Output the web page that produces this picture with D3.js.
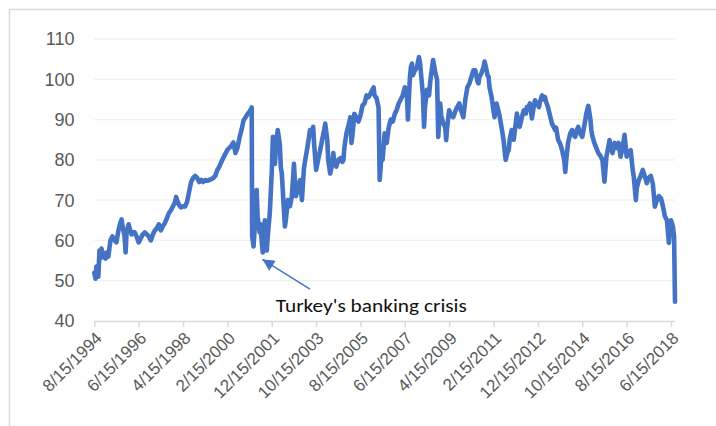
<!DOCTYPE html>
<html>
<head>
<meta charset="utf-8">
<script src="https://cdn.jsdelivr.net/npm/d3@7"></script>
<style>
  body { margin: 0; background: #fff; }
  svg { display: block; }
</style>
</head>
<body>
<div id="chart"></div>
<script>

// Lira index line chart, 1994 - 2018

const width = 716;
const height = 426;
const margin = {left: 94.3, right: 41, top: 39, bottom: 105};

// dates (one line per year) and the matching values
const dates = [
  "1994-08-15","1994-09-01","1994-09-15","1994-10-15","1994-11-01","1994-11-15","1994-12-01",
  "1995-01-01","1995-02-01","1995-02-15","1995-03-15","1995-04-15","1995-05-15","1995-06-15","1995-07-15","1995-08-15","1995-09-15","1995-10-01","1995-10-15","1995-11-15","1995-12-01","1995-12-15",
  "1996-01-15","1996-02-15","1996-03-01","1996-03-15","1996-04-15","1996-05-15","1996-06-15","1996-07-15","1996-08-15","1996-09-15","1996-10-15","1996-11-15","1996-12-15",
  "1997-01-15","1997-02-15","1997-03-15","1997-04-15","1997-05-15","1997-06-15","1997-07-15","1997-08-15","1997-09-15","1997-10-15","1997-11-15","1997-12-15",
  "1998-01-01","1998-01-15","1998-02-15","1998-03-15","1998-04-15","1998-05-15","1998-06-15","1998-07-15","1998-08-15","1998-09-15","1998-10-15","1998-11-15","1998-12-15",
  "1999-01-15","1999-02-15","1999-03-15","1999-04-15","1999-05-15","1999-06-15","1999-07-15","1999-08-15","1999-09-15","1999-10-15","1999-11-15","1999-12-15",
  "2000-01-15","2000-02-15","2000-03-15","2000-04-15","2000-05-15","2000-06-15","2000-07-15","2000-08-15","2000-09-15","2000-10-15","2000-11-15","2000-12-15",
  "2001-01-15","2001-02-15","2001-02-22","2001-03-15","2001-04-01","2001-04-15","2001-05-01","2001-05-15","2001-06-15","2001-07-01","2001-07-15","2001-08-01","2001-08-15","2001-09-01","2001-09-15","2001-10-01","2001-10-15","2001-11-15","2001-12-15",
  "2002-01-01","2002-01-15","2002-02-01","2002-02-15","2002-03-15","2002-04-15","2002-05-01","2002-05-15","2002-06-15","2002-07-01","2002-07-15","2002-08-15","2002-09-15","2002-10-15","2002-11-15","2002-12-01","2002-12-15",
  "2003-01-15","2003-02-15","2003-03-15","2003-04-15","2003-05-15","2003-06-15","2003-07-15","2003-08-15","2003-09-01","2003-09-15","2003-10-15","2003-11-15","2003-12-15",
  "2004-01-15","2004-02-15","2004-03-01","2004-04-01","2004-04-15","2004-05-15","2004-06-15","2004-07-01","2004-07-15","2004-08-15","2004-09-15","2004-10-15","2004-11-15","2004-12-01","2004-12-15",
  "2005-01-15","2005-02-15","2005-03-15","2005-04-01","2005-04-15","2005-05-15","2005-06-15","2005-07-15","2005-08-15","2005-09-15","2005-10-15","2005-11-15","2005-12-15",
  "2006-01-15","2006-02-15","2006-03-01","2006-03-15","2006-04-15","2006-05-15","2006-06-01","2006-06-15","2006-07-01","2006-07-15","2006-08-15","2006-09-15","2006-10-15","2006-11-15","2006-12-15",
  "2007-01-15","2007-02-15","2007-03-15","2007-04-15","2007-05-15","2007-06-15","2007-07-15","2007-08-01","2007-08-15","2007-09-01","2007-09-15","2007-10-01","2007-10-15","2007-11-15","2007-12-15",
  "2008-01-15","2008-02-01","2008-02-15","2008-03-15","2008-04-01","2008-04-15","2008-05-15","2008-06-15","2008-07-01","2008-07-15","2008-08-15","2008-09-15","2008-10-15","2008-11-01","2008-11-15","2008-12-01","2008-12-15",
  "2009-01-15","2009-02-15","2009-03-01","2009-03-15","2009-04-15","2009-05-15","2009-06-15","2009-07-15","2009-08-15","2009-09-15","2009-10-15","2009-11-15","2009-12-15",
  "2010-01-15","2010-02-15","2010-03-15","2010-04-15","2010-05-15","2010-06-15","2010-07-01","2010-07-15","2010-08-15","2010-09-15","2010-10-01","2010-10-15","2010-11-15","2010-12-01","2010-12-15",
  "2011-01-15","2011-02-15","2011-03-01","2011-04-01","2011-04-15","2011-05-15","2011-06-15","2011-07-15","2011-08-15","2011-09-15","2011-10-01","2011-10-15","2011-11-15","2011-12-15",
  "2012-01-15","2012-02-01","2012-02-15","2012-03-15","2012-04-15","2012-05-15","2012-06-15","2012-07-01","2012-07-15","2012-08-15","2012-09-15","2012-10-15","2012-11-01","2012-11-15","2012-12-15",
  "2013-01-01","2013-01-15","2013-02-15","2013-03-15","2013-04-01","2013-04-15","2013-05-15","2013-06-15","2013-07-15","2013-08-15","2013-09-01","2013-09-15","2013-10-15","2013-11-15","2013-12-15",
  "2014-01-15","2014-02-01","2014-02-15","2014-03-15","2014-04-15","2014-05-15","2014-06-15","2014-07-01","2014-07-15","2014-08-15","2014-09-15","2014-10-15","2014-11-15","2014-12-01","2014-12-15",
  "2015-01-15","2015-02-15","2015-03-01","2015-03-15","2015-04-15","2015-05-15","2015-06-15","2015-07-15","2015-08-15","2015-09-15","2015-10-15","2015-11-15","2015-12-01","2015-12-15",
  "2016-01-15","2016-02-15","2016-03-15","2016-04-15","2016-05-15","2016-06-15","2016-07-15","2016-08-15","2016-09-15","2016-10-15","2016-11-15","2016-12-01",
  "2017-01-01","2017-01-15","2017-02-15","2017-03-15","2017-04-15","2017-05-15","2017-06-15","2017-07-15","2017-08-15","2017-09-15","2017-10-15","2017-11-15","2017-12-15",
  "2018-01-15","2018-02-15","2018-03-15","2018-04-15","2018-05-15","2018-06-01","2018-06-15","2018-07-15","2018-08-01","2018-08-15"
];

const values = [
  52, 50.5, 53.5, 51, 57.5, 55.5, 58,
  56, 55.5, 57, 56, 60, 61, 60, 59.5, 62.5, 64.5, 65.2, 63.5, 61, 57, 62,
  64, 62, 61.5, 62, 62, 61, 59.5, 60.5, 61.5, 62, 61.5, 61, 60,
  61.5, 62.5, 63, 64, 62.5, 63.5, 64.3, 65.5, 66.8, 67.5, 68.5, 69.5,
  70.8, 70, 68.8, 68.2, 68.5, 68.4, 69.5, 72, 74.5, 75.5, 76, 75.5, 74.5,
  75, 74.5, 75, 74.8, 75, 75.2, 75.5, 76, 77.5, 78.3, 79.5, 80.5,
  81.5, 82.5, 83, 83.5, 84.3, 81.7, 83, 85.5, 87.5, 89.8, 90.6, 91.4,
  92, 93, 61, 58.5, 63, 68, 72.5, 66, 62, 64, 60, 57, 58, 65, 60, 57.5, 61, 66.8, 77,
  85.7, 82, 79, 83, 87.4, 84, 78, 76.8, 68, 63.5, 65, 70, 68.5, 71, 79, 74, 71,
  73, 75, 70, 78, 81, 84, 87.4, 87, 88.2, 84, 77.5, 80, 82.4,
  85, 87.5, 89, 84.9, 80, 76.6, 79, 81.7, 79.5, 78.3, 80, 80.4, 79.5, 80, 83,
  86.6, 88.5, 90.6, 84.2, 86, 91.4, 90.5, 89.5, 91, 93.5, 94, 96, 95.6,
  96.5, 97.5, 98, 96, 95.3, 93, 75, 78, 82.4, 80, 86.6, 84.2, 88, 90, 89.5,
  91.4, 92.5, 94, 95, 96, 98, 97, 90, 95, 100.6, 103, 103.9, 101, 102.2, 103,
  105.5, 104, 101.4, 96, 88.2, 93, 97.4, 96, 99, 101, 104.8, 102, 99.8, 85.7, 90, 94, 91,
  89.1, 88, 84.9, 88, 92.3, 91, 90.6, 92, 93.1, 94, 92, 90.6, 95,
  98, 99, 100.5, 102.2, 102.2, 99.5, 99, 100.5, 101.5, 103, 104.4, 103.5, 101, 100.6, 98,
  95.6, 92, 90.6, 94, 93, 91, 88, 84.9, 80, 82, 82.4, 85, 87.4, 85,
  89, 91.5, 90, 88.2, 90.5, 92.3, 91.5, 93.1, 92.5, 94, 90.3, 93.5, 94.8, 94, 93.5,
  93.1, 94.5, 96, 95, 95.6, 94.5, 93.1, 91, 89, 88, 87.4, 88, 85, 84, 82.4,
  80, 77, 80, 84.2, 86.5, 87.4, 86, 85.7, 87, 88.2, 86.5, 85.7, 88.5, 90, 91.5,
  93.4, 90, 87.4, 86, 84.2, 83, 81.7, 81, 80, 74.6, 80.8, 83.5, 84.9, 83,
  81.7, 84.2, 83, 84.2, 80.8, 83, 86.2, 80.8, 82, 82.4, 77.5, 75.8,
  70, 73, 75, 76, 77.5, 76, 74.2, 75.5, 76, 74, 68.4, 70, 71,
  70.5, 68.4, 66, 65, 59.4, 63, 65, 63.4, 61, 44.8
];

// axis labels
const xTickLabels = ["8/15/1994","6/15/1996","4/15/1998","2/15/2000","12/15/2001","10/15/2003","8/15/2005",
                     "6/15/2007","4/15/2009","2/15/2011","12/15/2012","10/15/2014","8/15/2016","6/15/2018"];
const yTicks = [40, 50, 60, 70, 80, 90, 100, 110];

// annotation: arrow tip / tail and text anchor, in data units
const noteText = "Turkey's banking crisis";
const noteTip = {date: "2001-07-25", value: 55.3};
const noteTail = {date: "2003-07-15", value: 47.9};
const noteLabel = {date: "2002-02-15", value: 42.3};

const parseDate = d3.timeParse("%Y-%m-%d");
const parseTick = d3.timeParse("%m/%d/%Y");
const data = dates.map((d, i) => ({date: parseDate(d), value: values[i]}));
if (dates.length !== values.length) console.log("length mismatch", dates.length, values.length);

const svg = d3.select("#chart")
  .append("svg")
  .attr("width", width)
  .attr("height", height);

// chart frame (runs off the picture on the right and bottom)
svg.append("rect")
  .attr("x", 9.5)
  .attr("y", 9.5)
  .attr("width", width + 20)
  .attr("height", height + 20)
  .attr("fill", "none")
  .attr("stroke", "#d9d9d9")
  .attr("stroke-width", 1.5);

/*
  Scales
*/
const xScale = d3.scaleTime()
  .domain([parseDate("1994-08-15"), parseDate("2018-08-15")])
  .range([margin.left, width - margin.right]);

const yScale = d3.scaleLinear()
  .domain([40, 110])
  .range([height - margin.bottom, margin.top]);

// gridlines
svg.append("g")
  .selectAll("line")
  .data(yTicks.filter(t => t > 40))
  .enter()
  .append("line")
    .attr("x1", margin.left)
    .attr("x2", width - margin.right)
    .attr("y1", d => yScale(d))
    .attr("y2", d => yScale(d))
    .attr("stroke", "#f0f0f0")
    .attr("stroke-width", 1.3);

// y labels
svg.append("g")
  .selectAll("text")
  .data(yTicks)
  .enter()
  .append("text")
    .attr("x", 74.5)
    .attr("y", d => yScale(d))
    .attr("dy", "0.36em")
    .attr("text-anchor", "end")
    .attr("font-family", "Liberation Sans, Arial, sans-serif")
    .attr("font-size", "18px")
    .attr("fill", "#595959")
    .text(d => d);

// x axis
const xAxis = svg.append("g")
  .attr("transform", `translate(0,${yScale(40)})`)
  .call(d3.axisBottom(xScale)
          .tickValues(xTickLabels.map(parseTick))
          .tickSize(6)
          .tickSizeOuter(0)
          .tickFormat(d3.timeFormat("%-m/%-d/%Y")));

xAxis.select(".domain")
  .attr("stroke", "#d9d9d9")
  .attr("stroke-width", 1.5)
  .attr("d", `M${margin.left},0.5H${width - margin.right}`);

xAxis.selectAll(".tick line")
  .attr("stroke", "#d9d9d9")
  .attr("stroke-width", 1.5);

xAxis.selectAll(".tick text")
  .attr("x", 0)
  .attr("y", 0)
  .attr("dy", "0.35em")
  .attr("transform", "translate(4,14) rotate(-45)")
  .style("text-anchor", "end")
  .attr("font-family", "Liberation Sans, Arial, sans-serif")
  .attr("font-size", "17px")
  .attr("fill", "#595959");

/*
  Line
*/
const line = d3.line()
  .x(d => xScale(d.date))
  .y(d => yScale(d.value));

svg.append("path")
  .datum(data)
  .attr("fill", "none")
  .attr("stroke", "#4472c4")
  .attr("stroke-width", 4.6)
  .attr("stroke-linejoin", "round")
  .attr("stroke-linecap", "round")
  .attr("d", line);

/*
  Annotation
*/
svg.append("defs")
  .append("marker")
    .attr("id", "arrowhead")
    .attr("viewBox", "0 0 10 10")
    .attr("refX", 10)
    .attr("refY", 5)
    .attr("markerUnits", "userSpaceOnUse")
    .attr("markerWidth", 14)
    .attr("markerHeight", 12)
    .attr("orient", "auto")
  .append("path")
    .attr("d", "M0,0L10,5L0,10z")
    .attr("fill", "#4472c4");

svg.append("line")
  .attr("x1", xScale(parseDate(noteTail.date)))
  .attr("y1", yScale(noteTail.value))
  .attr("x2", xScale(parseDate(noteTip.date)))
  .attr("y2", yScale(noteTip.value))
  .attr("stroke", "#4472c4")
  .attr("stroke-width", 1.4)
  .attr("marker-end", "url(#arrowhead)");

svg.append("text")
  .attr("x", xScale(parseDate(noteLabel.date)))
  .attr("y", yScale(noteLabel.value))
  .attr("font-family", "Carlito, Lato, sans-serif")
  .attr("font-size", "18.5px")
  .attr("fill", "#111")
  .attr("textLength", 191)
  .attr("lengthAdjust", "spacingAndGlyphs")
  .text(noteText);

</script>
</body>
</html>
